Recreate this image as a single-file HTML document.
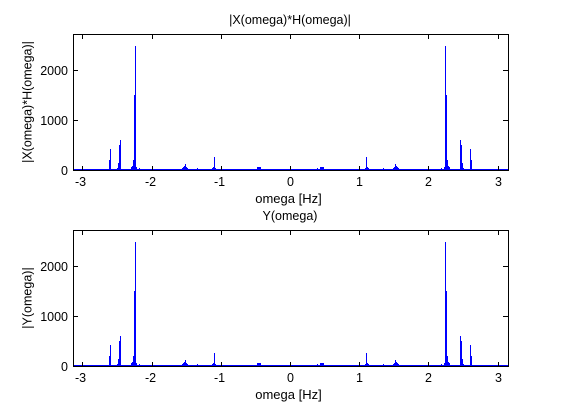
<!DOCTYPE html>
<html>
<head>
<meta charset="utf-8">
<title>Spectrum plots</title>
<style>
html,body{margin:0;padding:0;background:#fff;}
svg{display:block;}
text{font-family:"Liberation Sans",sans-serif;font-size:12.5px;fill:#000;}
</style>
</head>
<body>
<svg id="figure" width="561" height="414" viewBox="0 0 561 414" xmlns="http://www.w3.org/2000/svg"></svg>
<script>
const omegaValues = [
  -2.616,-2.601,-2.500,-2.486,-2.471,-2.457,-2.298,-2.283,-2.269,-2.254,-2.240,-2.225,-2.182,
  -1.561,-1.546,-1.532,-1.517,-1.503,-1.488,-1.344,-1.127,-1.113,-1.098,-1.084,
  -0.477,-0.462,-0.448,-0.434,
  0.390,0.434,0.448,0.462,0.477,
  1.084,1.098,1.113,1.127,1.344,1.488,1.503,1.517,1.532,1.546,1.561,
  2.182,2.225,2.240,2.254,2.269,2.283,2.298,2.457,2.471,2.486,2.500,2.601,2.616
];
const xhMagnitudes = [
  200,420,40,140,500,600,60,80,200,1500,2480,60,40,
  40,60,80,120,60,40,40,40,60,260,40,
  60,60,60,60,
  40,60,60,60,60,
  40,260,60,40,40,40,60,120,80,60,40,
  40,60,2480,1500,200,80,60,600,500,140,40,420,200
];
const yMagnitudes = [
  200,420,40,140,500,600,60,80,200,1500,2480,60,40,
  40,60,80,120,60,40,40,40,60,260,40,
  60,60,60,60,
  40,60,60,60,60,
  40,260,60,40,40,40,60,120,80,60,40,
  40,60,2480,1500,200,80,60,600,500,140,40,420,200
];
const xTickValues = [-3,-2,-1,0,1,2,3];
const yTickValues = [0,1000,2000];
const xLimits = [-Math.PI, Math.PI];
const yLimits = [0, 2720];
const baselineLevel = 20;

const svgNS = 'http://www.w3.org/2000/svg';
const figure = document.getElementById('figure');
const plotLeft = 73;
const plotRight = 508;
const plotHeight = 136;

function xScale(w) {
  return plotLeft + (w - xLimits[0]) / (xLimits[1] - xLimits[0]) * (plotRight - plotLeft);
}
function yScale(v, plotBottom) {
  return plotBottom - (v - yLimits[0]) / (yLimits[1] - yLimits[0]) * plotHeight;
}
function make(tag, attrs, parent) {
  const el = document.createElementNS(svgNS, tag);
  for (const k in attrs) el.setAttribute(k, attrs[k]);
  parent.appendChild(el);
  return el;
}
function label(parent, content, x, y, anchor) {
  const t = make('text', {x: x, y: y, 'text-anchor': anchor}, parent);
  t.textContent = content;
  return t;
}

function drawPanel(prefix, plotBottom, magnitudes, titleText, yTitleText, titleY, yTitleX) {
  const plotTop = plotBottom - plotHeight;
  const panel = make('g', {'shape-rendering': 'crispEdges'}, figure);
  
  

  const zeroY = Math.round(yScale(0, plotBottom));
  magnitudes.forEach(function (v, i) {
    const px = Math.floor(xScale(omegaValues[i]));
    const top = Math.round(yScale(v, plotBottom));
    const bar = make('rect', {x: px, y: top, width: 1, height: zeroY - top, fill: '#0000ff'}, panel);
    
    
  });
  const baseTop = Math.round(yScale(baselineLevel, plotBottom));
  const baseline = make('rect', {x: plotLeft, y: baseTop, width: plotRight - plotLeft, height: zeroY - baseTop, fill: '#0000ff'}, panel);
  
  

  const frame = make('rect', {x: plotLeft + 0.5, y: plotTop + 0.5, width: plotRight - plotLeft, height: plotHeight, fill: 'none', stroke: '#000', 'stroke-width': 1}, panel);
  
  

  xTickValues.forEach(function (w) {
    const px = Math.floor(xScale(w)) + 0.5;
    const tb = make('line', {x1: px, x2: px, y1: plotBottom, y2: plotBottom - 4, stroke: '#000'}, panel);
    
    
    const tt = make('line', {x1: px, x2: px, y1: plotTop, y2: plotTop + 5, stroke: '#000'}, panel);
    
    
    const tl = label(figure, String(w), px - (w < 0 ? 2 : 0), plotBottom + 16, 'middle');
    
    
  });

  yTickValues.forEach(function (v) {
    const py = Math.round(yScale(v, plotBottom)) + 0.5;
    if (v !== 0) {
      const tl = make('line', {x1: plotLeft, x2: plotLeft + 5, y1: py, y2: py, stroke: '#000'}, panel);
      
      
      const tr = make('line', {x1: plotRight, x2: plotRight - 5, y1: py, y2: py, stroke: '#000'}, panel);
      
      
    }
    const yl = label(figure, String(v), 68, py + 4.5, 'end');
    
    
  });

  const title = label(figure, titleText, 290, titleY, 'middle');
  
  

  const xTitle = label(figure, 'omega [Hz]', 288.5, plotBottom + 33, 'middle');
  xTitle.setAttribute('font-size', '13');
  xTitle.style.fontSize = '13px';
  
  

  const cy = (plotTop + plotBottom) / 2;
  const yTitle = label(figure, yTitleText, 0, 0, 'middle');
  yTitle.setAttribute('transform', 'translate(' + yTitleX + ',' + cy + ') rotate(-90)');
  
  
}

drawPanel('top', 170, xhMagnitudes, '|X(omega)*H(omega)|', '|X(omega)*H(omega)|', 24, 31.5);
drawPanel('bottom', 366, yMagnitudes, 'Y(omega)', '|Y(omega)|', 220, 31.5);
</script>
</body>
</html>
